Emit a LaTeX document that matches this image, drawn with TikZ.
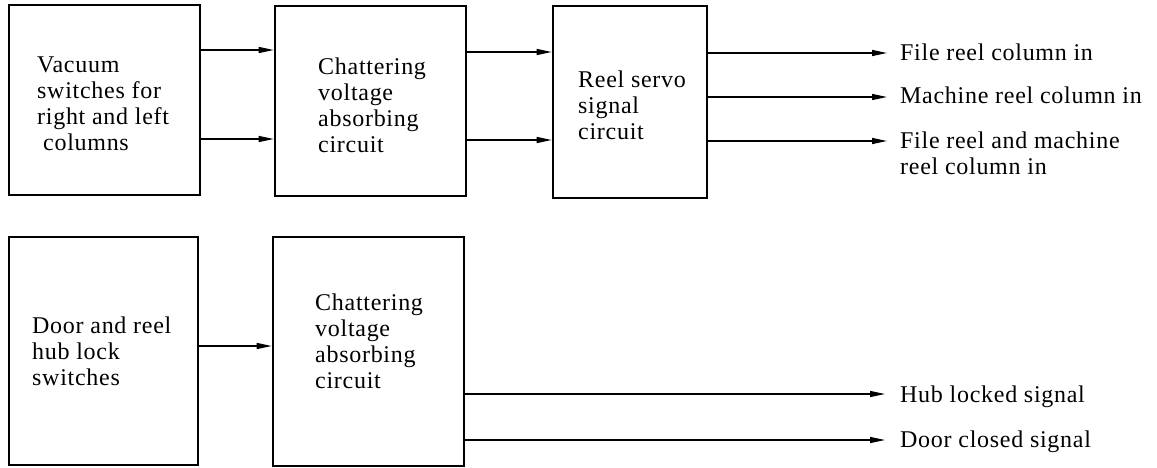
\documentclass[tikz,border=0pt]{standalone}
\usepackage{fontspec}
\setmainfont[LetterSpace=3]{Liberation Serif}
\usetikzlibrary{arrows.meta}
\begin{document}
\begin{tikzpicture}[x=1pt,y=-1pt,
  box/.style={draw, line width=2.6pt, inner sep=0pt},
  txt/.style={inner sep=0pt, align=left, font=\fontsize{24}{26}\selectfont},
  arr/.style={line width=1.3pt, -{Triangle[length=15pt,width=6pt]}}]
\useasboundingbox (0,0) rectangle (1157,467);
% boxes
\node[box, minimum width=191pt, minimum height=190pt] (b1) at (104.5,100) {};
\node[box, minimum width=191pt, minimum height=190pt] (b2) at (370.5,101) {};
\node[box, minimum width=154pt, minimum height=192pt] (b3) at (630,102) {};
\node[box, minimum width=189pt, minimum height=228pt] (b4) at (103.5,351) {};
\node[box, minimum width=191pt, minimum height=229pt] (b5) at (368.5,351.5) {};
% box texts
\node[txt, anchor=north west] (t1) at (37,56.6) {Vacuum\\switches for\\right and left\\\hspace{6pt}columns};
\node[txt, anchor=north west] (t2) at (318,57.6) {Chattering\\voltage\\absorbing\\circuit};
\node[txt, anchor=north west] (t3) at (578,70.6) {Reel servo\\signal\\circuit};
\node[txt, anchor=north west] (t4) at (32,316.6) {Door and reel\\hub lock\\switches};
\node[txt, anchor=north west] (t5) at (315,293.6) {Chattering\\voltage\\absorbing\\circuit};
% arrow end points
\coordinate (e1) at (887,53);
\coordinate (e2) at (887,97);
\coordinate (e3) at (887,141);
\coordinate (e4) at (885,394);
\coordinate (e5) at (885,440);
% output labels
\node[txt, anchor=base west] (o1) at (900,60) {File reel column in};
\node[txt, anchor=base west] (o2) at (900,103) {Machine reel column in};
\node[txt, anchor=north west] (o3) at (900,131.6) {File reel and machine\\reel column in};
\node[txt, anchor=base west] (o4) at (900,402) {Hub locked signal};
\node[txt, anchor=base west] (o5) at (900,447) {Door closed signal};
% connectors
\draw[arr] (b1.east |- 0,50) -- (b2.west |- 0,50);
\draw[arr] (b1.east |- 0,139) -- (b2.west |- 0,139);
\draw[arr] (b2.east |- 0,52) -- (b3.west |- 0,52);
\draw[arr] (b2.east |- 0,140) -- (b3.west |- 0,140);
\draw[arr] (b3.east |- e1) -- (e1);
\draw[arr] (b3.east |- e2) -- (e2);
\draw[arr] (b3.east |- e3) -- (e3);
\draw[arr] (b4.east |- 0,346) -- (b5.west |- 0,346);
\draw[arr] (b5.east |- e4) -- (e4);
\draw[arr] (b5.east |- e5) -- (e5);
\end{tikzpicture}
\end{document}
